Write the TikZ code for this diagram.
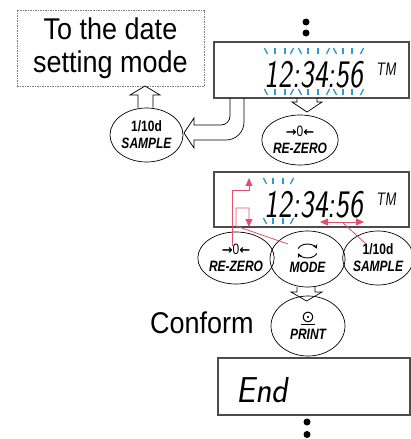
\documentclass[tikz,border=0pt]{standalone}
\usepackage{fontspec}
\usepackage{graphicx}
\setmainfont{Liberation Sans}
\newfontfamily\djv{DejaVu Sans}
\newfontfamily\btnf{Liberation Sans}[FakeStretch=0.8]
\newfontfamily\bigf{Liberation Sans}[FakeStretch=0.9]
\newfontfamily\segf{Latin Modern Sans}[FakeSlant=0.12,FakeStretch=0.76]
\usetikzlibrary{shapes.geometric,arrows.meta}
\definecolor{flick}{RGB}{51,153,204}
\definecolor{pinkred}{RGB}{226,80,112}
\begin{document}
\begin{tikzpicture}[x=1pt,y=-1pt,
  btn/.style={ellipse,draw,line width=0.7pt,inner sep=0pt,align=center,font=\btnf\bfseries\fontsize{15}{17}\selectfont},
  disp/.style={draw=black!70,line width=1.1pt,inner sep=0pt},
  seg/.style={inner sep=0pt,font=\segf\fontsize{39}{42}\selectfont},
  segsmall/.style={inner sep=0pt,font=\segf\fontsize{18}{20}\selectfont},
  blockarrow/.style={draw,line width=0.7pt,line join=miter},
  ray/.style={flick,line width=1.4pt},
  redline/.style={pinkred,line width=0.8pt},
  redtip/.style={-{Triangle[length=8pt,width=7pt]}},
  redtips/.style={{Triangle[length=8pt,width=7pt]}-{Triangle[length=8pt,width=7pt]}},
  dot/.style={circle,fill=black,inner sep=0pt,minimum size=7pt}]
\useasboundingbox (0,0) rectangle (411,439);

% dashed box
\node[draw=gray,dash pattern=on 1.5pt off 1pt,line width=0.6pt,minimum width=187pt,minimum height=76pt,inner sep=0pt,align=center,font=\bigf\fontsize{30}{33}\selectfont] (datebox) at (110.5,48) {To the date\\setting mode};

% top dots
\node[dot] (dt1) at (306,22) {};
\node[dot] (dt2) at (306,33) {};

% display 1
\node[disp,minimum width=195pt,minimum height=56pt] (d1) at (311.5,70) {};
\node[seg,anchor=base] (t1) at (314,87) {12:34:56};
\node[segsmall,anchor=base] (tm1) at (386,75) {TM};
\foreach \x/\s in {266/-1,275/0,285/0,292/1,300/-1,308/0,318/0,328/1,335/-1,343/0,352/0,362/1}{
  \draw[ray] (\x+1.6*\s,48) -- (\x-1.6*\s,54);
  \draw[ray] (\x+1.6*\s,89) -- (\x-1.6*\s,95);
}

% buttons row 1
\node[btn,minimum width=73pt,minimum height=54pt] (s1) at (146.5,135) {1/10d\\\itshape SAMPLE};
\node[btn,minimum width=65pt,minimum height=50pt] (z1) at (300,140) {{\djv\bfseries\fontsize{13}{14}\selectfont →}{\mdseries 0}{\djv\bfseries\fontsize{13}{14}\selectfont ←}\\\itshape RE-ZERO};

% up block arrow to date box
\draw[blockarrow] (138,107.5) -- (138,95) -- (130,95) -- (145,86) -- (160,95) -- (153,95) -- (153,107.5);
% down block arrow display1 -> re-zero
\draw[blockarrow] (297,98) -- (297,102) -- (292,102) -- (307,112) -- (322,102) -- (317,102) -- (317,98);
% curved block arrow display1 -> sample
\draw[blockarrow] (230,98) -- (230,116) .. controls (230,121) and (226,125) .. (221,125) -- (194,125) -- (194,118) -- (184,133) -- (194,148) -- (194,140) -- (226,140) .. controls (236,140) and (244,132) .. (244,122) -- (244,98);

% display 2
\node[disp,minimum width=195pt,minimum height=55pt] (d2) at (311.5,199.5) {};
\node[seg,anchor=base] (t2) at (314,217) {12:34:56};
\node[segsmall,anchor=base] (tm2) at (386,205) {TM};
\foreach \x/\s in {265/-1,273/0,283/0,292/1}{
  \draw[ray] (\x+1.6*\s,178) -- (\x-1.6*\s,184);
  \draw[ray] (\x+1.6*\s,218) -- (\x-1.6*\s,224);
}

% buttons row 2
\node[btn,minimum width=72pt,minimum height=52pt] (z2) at (236,258) {{\djv\bfseries\fontsize{13}{14}\selectfont →}{\mdseries 0}{\djv\bfseries\fontsize{13}{14}\selectfont ←}\\\itshape RE-ZERO};
\node[btn,minimum width=75pt,minimum height=56pt] (m2) at (307.5,259) {\vphantom{1}\\\itshape MODE};
\node[btn,minimum width=66pt,minimum height=54pt] (s2) at (378,258) {1/10d\\\itshape SAMPLE};
\begin{scope}[shift={(307.5,251)},y=1pt]
  \draw[line width=0.9pt,-{Stealth[length=4pt,width=4.5pt]}] (160:10 and 7) arc[start angle=160,end angle=20,x radius=10,y radius=7];
  \draw[line width=0.9pt,-{Stealth[length=4pt,width=4.5pt]}] (-20:10 and 7) arc[start angle=-20,end angle=-160,x radius=10,y radius=7];
\end{scope}

% red arrows
\coordinate (ra0) at (232,246);
\coordinate (ra1) at (249,178);
\draw[redline,redtip] (ra0) -- (232,190) -- (249,190) -- (ra1);
\coordinate (rb0) at (288,244);
\coordinate (rb1) at (249,227);
\draw[redline,redtip] (rb0) -- (236,226) -- (236,208) -- (249,208) -- (rb1);
\coordinate (rc0) at (320,222);
\coordinate (rc1) at (364,222);
\coordinate (rcm) at (342,222);
\coordinate (rc2) at (366,244);
\draw[redline,redtips] (rc0) -- (rc1);
\draw[redline] (rcm) -- (rc2);

% PRINT
\node[btn,minimum width=74pt,minimum height=60pt] (p) at (308,326) {{\djv\fontsize{16}{16}\selectfont\mdseries\underline{⊙}}\\\itshape PRINT};
\draw[blockarrow] (297,287) -- (297,292) -- (291,292) -- (306.5,301) -- (322,292) -- (315,292) -- (315,287);

\node[anchor=base west,inner sep=0pt,font=\bigf\fontsize{30}{33}\selectfont] (conf) at (150,333) {Conform};

% display 3
\node[disp,minimum width=192pt,minimum height=57pt] (d3) at (314,386.5) {};
\node[seg,anchor=base west,font=\segf\fontsize{36}{40}\selectfont] (t3) at (236,402) {\scalebox{1.25}[1]{End}};

% bottom dots
\node[dot] (db1) at (307,422) {};
\node[dot] (db2) at (307,434.5) {};
\end{tikzpicture}
\end{document}
